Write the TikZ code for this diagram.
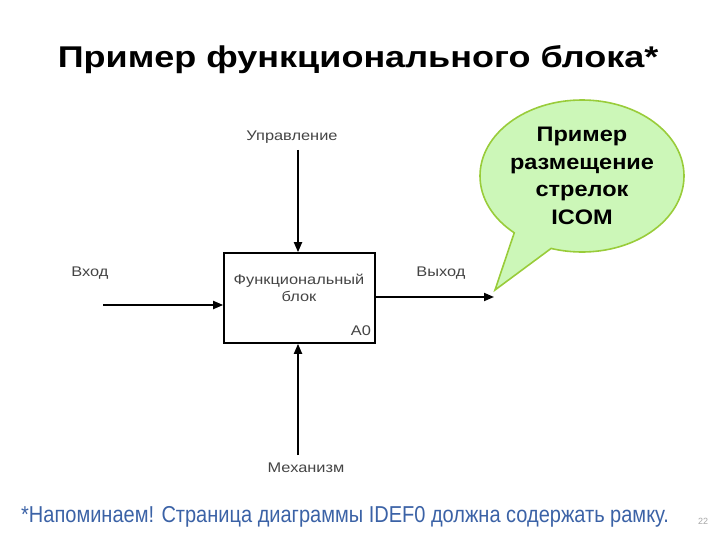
\documentclass[tikz,border=0pt]{standalone}
\usepackage{fontspec}
\setmainfont{Liberation Sans}
\newfontfamily\narrowfont[FakeStretch=0.87]{Liberation Sans}
\newfontfamily\widefont[FakeStretch=1.17]{Liberation Sans}
\newfontfamily\titlefont[FakeStretch=1.2]{Liberation Sans}
\newfontfamily\callfont[FakeStretch=1.12]{Liberation Sans}
\usetikzlibrary{arrows.meta,shapes.callouts}
\definecolor{lbl}{HTML}{444444}
\definecolor{calfill}{HTML}{CCF7B8}
\definecolor{calline}{HTML}{99CC3A}
\definecolor{noteblue}{HTML}{3B62A6}
\tikzset{
  flow/.style={line width=1.8pt,-{Triangle[length=10pt,width=8pt]}},
  lab/.style={text=lbl,font=\widefont\fontsize{14}{16}\selectfont,inner sep=0pt},
}
\begin{document}
\begin{tikzpicture}[x=1pt,y=-1pt]
\useasboundingbox (0,0) rectangle (720,540);
\node[font=\titlefont\bfseries\fontsize{30}{34}\selectfont,inner sep=0pt] (title) at (358,60) {Пример функционального блока*};
\node[draw,line width=1.6pt,minimum width=151pt,minimum height=90pt,inner sep=0pt] (box) at (299.5,298) {};
\node[lab,align=center] (boxt) at (299,288) {Функциональный\\[1pt]блок};
\node[lab] (a0) at (361,331) {A0};
\node[lab] (ctl) at (292,137) {Управление};
\node[lab] (inp) at (90,273) {Вход};
\node[lab] (out) at (441,273) {Выход};
\node[lab] (mech) at (306,468) {Механизм};
\coordinate (ctlS) at (298,150);
\coordinate (inpS) at (103,305);
\coordinate (outE) at (494,297);
\coordinate (mechS) at (298,455);
\draw[flow] (ctlS) -- (ctlS |- box.north);
\draw[flow] (inpS) -- (inpS -| box.west);
\draw[flow] (outE -| box.east) -- (outE);
\draw[flow] (mechS) -- (mechS |- box.south);
\node[ellipse callout,draw=calline,fill=calfill,line width=1.6pt,minimum width=204pt,minimum height=152pt,inner sep=0pt,
  callout absolute pointer={(495,290)},callout pointer arc=24,
  align=center,font=\callfont\bfseries\fontsize{21}{27.5}\selectfont] (call) at (582,176) {Пример\\размещение\\стрелок\\ICOM};
\node[anchor=west,text=noteblue,font=\narrowfont\fontsize{23}{26}\selectfont,inner sep=0pt] (note) at (21,517) {*Напоминаем! Страница диаграммы IDEF0 должна содержать рамку.};
\node[text=gray!70,font=\fontsize{9}{10}\selectfont,inner sep=0pt] (pg) at (703,521) {22};
\end{tikzpicture}
\end{document}
